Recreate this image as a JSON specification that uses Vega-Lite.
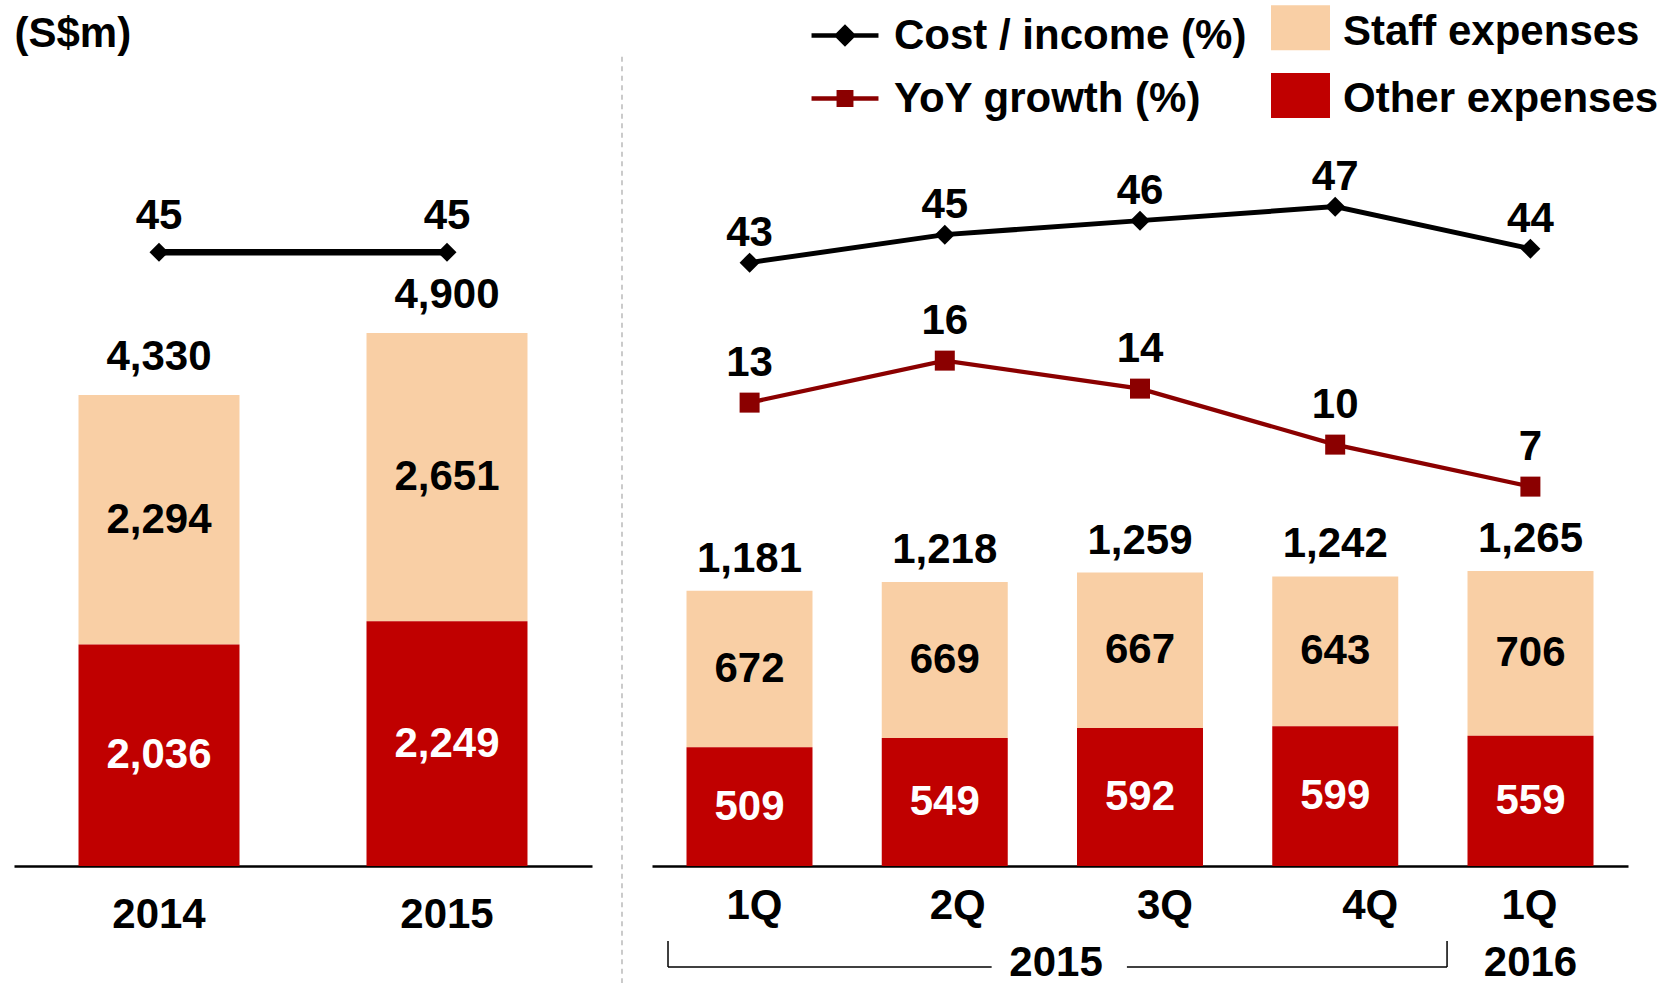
{
  "$schema": "https://vega.github.io/schema/vega-lite/v6.json",
  "background": "white",
  "padding": {"left": 14, "top": 0, "right": 0, "bottom": 0},
  "spacing": 0,
  "datasets": {
    "annualSeg": [
      {"period": "2014", "type": "Staff expenses", "value": 2294},
      {"period": "2014", "type": "Other expenses", "value": 2036},
      {"period": "2015", "type": "Staff expenses", "value": 2651},
      {"period": "2015", "type": "Other expenses", "value": 2249}
    ],
    "annualTot": [
      {"period": "2014", "total": 4330, "cost_income": 45},
      {"period": "2015", "total": 4900, "cost_income": 45}
    ],
    "qSeg": [
      {"period": "1Q 2015", "type": "Staff expenses", "value": 672},
      {"period": "1Q 2015", "type": "Other expenses", "value": 509},
      {"period": "2Q 2015", "type": "Staff expenses", "value": 669},
      {"period": "2Q 2015", "type": "Other expenses", "value": 549},
      {"period": "3Q 2015", "type": "Staff expenses", "value": 667},
      {"period": "3Q 2015", "type": "Other expenses", "value": 592},
      {"period": "4Q 2015", "type": "Staff expenses", "value": 643},
      {"period": "4Q 2015", "type": "Other expenses", "value": 599},
      {"period": "1Q 2016", "type": "Staff expenses", "value": 706},
      {"period": "1Q 2016", "type": "Other expenses", "value": 559}
    ],
    "qTot": [
      {"period": "1Q 2015", "total": 1181, "cost_income": 43, "yoy": 13},
      {"period": "2Q 2015", "total": 1218, "cost_income": 45, "yoy": 16},
      {"period": "3Q 2015", "total": 1259, "cost_income": 46, "yoy": 14},
      {"period": "4Q 2015", "total": 1242, "cost_income": 47, "yoy": 10},
      {"period": "1Q 2016", "total": 1265, "cost_income": 44, "yoy": 7}
    ]
  },
  "resolve": {
    "scale": {"color": "independent", "stroke": "independent"},
    "legend": {"color": "independent", "stroke": "independent"}
  },
  "hconcat": [
    {
      "width": 578,
      "height": 866,
      "layer": [
        {
          "layer": [
            {
              "data": {"name": "annualSeg"},
              "mark": {"type": "bar"},
              "encoding": {
                "x": {
                  "field": "period", "type": "nominal",
                  "scale": {"domain": ["2014", "2015"], "paddingInner": 0.441, "paddingOuter": 0.224},
                  "axis": {"title": null, "labelPadding": 48.5}
                },
                "y": {
                  "field": "value", "type": "quantitative", "stack": "zero",
                  "scale": {"domain": [0, 7960], "nice": false, "zero": false},
                  "axis": {
                    "title": "(S$m)", "labels": false, "domain": false, "ticks": false, "grid": false,
                    "titleAngle": 0, "titleX": 0, "titleY": 33, "titleAlign": "left", "titleBaseline": "middle"
                  }
                },
                "color": {
                  "field": "type", "type": "nominal",
                  "scale": {"domain": ["Staff expenses", "Other expenses"], "range": ["#F9CFA5", "#C00000"]},
                  "legend": null
                },
                "order": {"field": "type", "type": "nominal", "sort": "ascending"}
              }
            },
            {
              "data": {"name": "annualSeg"},
              "transform": [
                {"stack": "value", "groupby": ["period"], "sort": [{"field": "type", "order": "ascending"}], "as": ["v0", "v1"]},
                {"fold": ["v0", "v1"], "as": ["edge", "pos"]},
                {"aggregate": [{"op": "mean", "field": "pos", "as": "mid"}], "groupby": ["period", "type", "value"]}
              ],
              "mark": {"type": "text"},
              "encoding": {
                "x": {"field": "period", "type": "nominal"},
                "y": {"field": "mid", "type": "quantitative", "scale": {"domain": [0, 7960], "nice": false, "zero": false}},
                "text": {"field": "value", "type": "quantitative", "format": ",d"},
                "color": {"condition": {"test": "datum.type === 'Other expenses'", "value": "#FFFFFF"}, "value": "#000000"}
              }
            },
            {
              "data": {"name": "annualTot"},
              "mark": {"type": "text", "dy": -38, "color": "#000000"},
              "encoding": {
                "x": {"field": "period", "type": "nominal"},
                "y": {"field": "total", "type": "quantitative", "scale": {"domain": [0, 7960], "nice": false, "zero": false}},
                "text": {"field": "total", "type": "quantitative", "format": ",d"}
              }
            }
          ]
        },
        {
          "data": {"name": "annualTot"},
          "layer": [
            {
              "mark": {"type": "line", "color": "#000000", "strokeWidth": 6.5},
              "encoding": {
                "x": {"field": "period", "type": "nominal"},
                "y": {"field": "cost_income", "type": "quantitative", "scale": {"domain": [0, 63.5], "nice": false, "zero": false}, "axis": null}
              }
            },
            {
              "mark": {"type": "point", "shape": "diamond", "size": 360, "filled": true, "color": "#000000", "opacity": 1},
              "encoding": {
                "x": {"field": "period", "type": "nominal"},
                "y": {"field": "cost_income", "type": "quantitative"}
              }
            },
            {
              "mark": {"type": "text", "dy": -36, "color": "#000000"},
              "encoding": {
                "x": {"field": "period", "type": "nominal"},
                "y": {"field": "cost_income", "type": "quantitative"},
                "text": {"field": "cost_income", "type": "quantitative"}
              }
            }
          ]
        }
      ],
      "resolve": {"scale": {"y": "independent"}}
    },
    {
      "width": 60,
      "height": 866,
      "data": {"values": [{}]},
      "mark": {"type": "rule", "color": "#AFAFAF", "strokeWidth": 1.3, "strokeDash": [5, 4.5]},
      "encoding": {
        "x": {"datum": 0.5, "type": "quantitative", "scale": {"domain": [0, 1], "nice": false}, "axis": null},
        "y": {"datum": 0.9345, "type": "quantitative", "scale": {"domain": [0, 1], "nice": false}, "axis": null},
        "y2": {"datum": -0.135}
      }
    },
    {
      "width": 976,
      "height": 866,
      "layer": [
        {
          "layer": [
            {
              "data": {"name": "qSeg"},
              "mark": {"type": "bar"},
              "encoding": {
                "x": {
                  "field": "period", "type": "nominal",
                  "scale": {"domain": ["1Q 2015", "2Q 2015", "3Q 2015", "4Q 2015", "1Q 2016"], "paddingInner": 0.3547, "paddingOuter": 0.1767},
                  "axis": {
                    "title": null, "labelPadding": 39,
                    "labelExpr": "split(datum.label, ' ')[0]",
                    "labelOffset": {
                      "condition": [
                        {"test": "datum.value === '1Q 2015'", "value": 5},
                        {"test": "datum.value === '2Q 2015'", "value": 13},
                        {"test": "datum.value === '3Q 2015'", "value": 25},
                        {"test": "datum.value === '4Q 2015'", "value": 35}
                      ],
                      "value": -1
                    }
                  }
                },
                "y": {
                  "field": "value", "type": "quantitative", "stack": "zero",
                  "scale": {"domain": [0, 3715], "nice": false, "zero": false},
                  "axis": null
                },
                "color": {
                  "field": "type", "type": "nominal",
                  "scale": {"domain": ["Staff expenses", "Other expenses"], "range": ["#F9CFA5", "#C00000"]},
                  "legend": {
                    "orient": "none", "legendX": 626, "legendY": 5.3, "title": null, "direction": "vertical",
                    "symbolType": "M-1.311,-1H1.311V1H-1.311Z", "symbolSize": 2025, "symbolStrokeWidth": 0, "symbolOpacity": 1,
                    "labelOffset": 20, "rowPadding": 19.6, "padding": 0, "labelLimit": 0,
                    "encode": {"labels": {"update": {"dy": {"value": 4}}}}
                  }
                },
                "order": {"field": "type", "type": "nominal", "sort": "ascending"}
              }
            },
            {
              "data": {"name": "qSeg"},
              "transform": [
                {"stack": "value", "groupby": ["period"], "sort": [{"field": "type", "order": "ascending"}], "as": ["v0", "v1"]},
                {"fold": ["v0", "v1"], "as": ["edge", "pos"]},
                {"aggregate": [{"op": "mean", "field": "pos", "as": "mid"}], "groupby": ["period", "type", "value"]}
              ],
              "mark": {"type": "text"},
              "encoding": {
                "x": {"field": "period", "type": "nominal"},
                "y": {"field": "mid", "type": "quantitative", "scale": {"domain": [0, 3715], "nice": false, "zero": false}},
                "text": {"field": "value", "type": "quantitative", "format": ",d"},
                "color": {"condition": {"test": "datum.type === 'Other expenses'", "value": "#FFFFFF"}, "value": "#000000"}
              }
            },
            {
              "data": {"name": "qTot"},
              "mark": {"type": "text", "dy": -32, "color": "#000000"},
              "encoding": {
                "x": {"field": "period", "type": "nominal"},
                "y": {"field": "total", "type": "quantitative", "scale": {"domain": [0, 3715], "nice": false, "zero": false}},
                "text": {"field": "total", "type": "quantitative", "format": ",d"}
              }
            },
            {
              "data": {"values": [{}]},
              "mark": {"type": "text", "color": "#000000"},
              "encoding": {
                "x": {"datum": "1Q 2016", "type": "nominal"},
                "y": {"datum": -416, "type": "quantitative"},
                "text": {"value": "2016"}
              }
            }
          ]
        },
        {
          "data": {"name": "qTot"},
          "layer": [
            {
              "mark": {"type": "line", "strokeWidth": 5},
              "encoding": {
                "x": {"field": "period", "type": "nominal", "scale": {"domain": ["1Q 2015", "2Q 2015", "3Q 2015", "4Q 2015", "1Q 2016"], "paddingInner": 0.3547, "paddingOuter": 0.1767}, "axis": null},
                "y": {"field": "cost_income", "type": "quantitative", "scale": {"domain": [-0.1, 61.76], "nice": false, "zero": false}, "axis": null},
                "stroke": {
                  "datum": "Cost / income (%)", "type": "nominal",
                  "scale": {"domain": ["Cost / income (%)", "YoY growth (%)"], "range": ["#000000", "#8B0000"]},
                  "legend": {
                    "orient": "none", "legendX": 159.5, "legendY": 2, "title": null, "direction": "vertical",
                    "symbolType": "M-1.08,0H1.08", "symbolSize": 3844, "symbolStrokeWidth": 4.5, "symbolOpacity": 1,
                    "labelOffset": 15.5, "rowPadding": 8, "padding": 0, "labelLimit": 0,
                    "encode": {
                      "symbols": {
                        "update": {
                          "shape": {"signal": "datum.value === 'Cost / income (%)' ? 'M-1.08,0H1.08M-0.26,0L0,-0.26L0.26,0L0,0.26Z' : 'M-1.08,0H1.08M-0.2,-0.2H0.2V0.2H-0.2Z'"},
                          "fill": {"signal": "datum.value === 'Cost / income (%)' ? '#000000' : '#8B0000'"},
                          "fillOpacity": {"value": 1}
                        }
                      }
                    }
                  }
                }
              }
            },
            {
              "mark": {"type": "point", "shape": "diamond", "size": 400, "filled": true, "color": "#000000", "opacity": 1},
              "encoding": {
                "x": {"field": "period", "type": "nominal"},
                "y": {"field": "cost_income", "type": "quantitative"}
              }
            },
            {
              "mark": {"type": "text", "dy": -30, "color": "#000000"},
              "encoding": {
                "x": {"field": "period", "type": "nominal"},
                "y": {"field": "cost_income", "type": "quantitative"},
                "text": {"field": "cost_income", "type": "quantitative"}
              }
            }
          ]
        },
        {
          "data": {"name": "qTot"},
          "layer": [
            {
              "mark": {"type": "line", "strokeWidth": 4.2},
              "encoding": {
                "x": {"field": "period", "type": "nominal", "scale": {"domain": ["1Q 2015", "2Q 2015", "3Q 2015", "4Q 2015", "1Q 2016"], "paddingInner": 0.3547, "paddingOuter": 0.1767}, "axis": null},
                "y": {"field": "yoy", "type": "quantitative", "scale": {"domain": [-20.1, 41.76], "nice": false, "zero": false}, "axis": null},
                "stroke": {"datum": "YoY growth (%)", "type": "nominal"}
              }
            },
            {
              "mark": {"type": "point", "shape": "square", "size": 400, "filled": true, "color": "#8B0000", "opacity": 1},
              "encoding": {
                "x": {"field": "period", "type": "nominal"},
                "y": {"field": "yoy", "type": "quantitative"}
              }
            },
            {
              "mark": {"type": "text", "dy": -40, "color": "#000000"},
              "encoding": {
                "x": {"field": "period", "type": "nominal"},
                "y": {"field": "yoy", "type": "quantitative"},
                "text": {"field": "yoy", "type": "quantitative"}
              }
            }
          ]
        },
        {
          "data": {"values": [{}]},
          "layer": [
            {
              "mark": {"type": "rule", "color": "#000000", "strokeWidth": 1.5},
              "encoding": {
                "x": {"datum": -0.418, "type": "quantitative", "scale": {"domain": [-0.5, 4.5], "nice": false, "zero": false}, "axis": null},
                "y": {"datum": -321.8, "type": "quantitative", "scale": {"domain": [0, 3715], "nice": false, "zero": false}, "axis": null},
                "y2": {"datum": -433.3}
              }
            },
            {
              "mark": {"type": "rule", "color": "#000000", "strokeWidth": 1.5},
              "encoding": {
                "x": {"datum": 3.573, "type": "quantitative"},
                "y": {"datum": -321.8, "type": "quantitative"},
                "y2": {"datum": -433.3}
              }
            },
            {
              "mark": {"type": "rule", "color": "#000000", "strokeWidth": 1.5},
              "encoding": {
                "x": {"datum": -0.418, "type": "quantitative"},
                "x2": {"datum": 1.24},
                "y": {"datum": -433.3, "type": "quantitative"}
              }
            },
            {
              "mark": {"type": "rule", "color": "#000000", "strokeWidth": 1.5},
              "encoding": {
                "x": {"datum": 1.933, "type": "quantitative"},
                "x2": {"datum": 3.573},
                "y": {"datum": -433.3, "type": "quantitative"}
              }
            },
            {
              "mark": {"type": "text", "color": "#000000"},
              "encoding": {
                "x": {"datum": 1.57, "type": "quantitative"},
                "y": {"datum": -416, "type": "quantitative"},
                "text": {"value": "2015"}
              }
            }
          ]
        }
      ],
      "resolve": {"scale": {"x": "independent", "y": "independent"}}
    }
  ],
  "config": {
    "view": {"stroke": null},
    "font": "Liberation Sans",
    "text": {"font": "Liberation Sans", "fontSize": 42, "fontWeight": "bold", "baseline": "middle", "align": "center"},
    "axis": {
      "labelFont": "Liberation Sans", "labelFontSize": 42, "labelFontWeight": "bold", "labelColor": "#000000",
      "titleFont": "Liberation Sans", "titleFontSize": 42, "titleFontWeight": "bold", "titleColor": "#000000",
      "domainColor": "#000000", "domainWidth": 2.5, "ticks": false, "tickSize": 0, "grid": false,
      "labelAngle": 0, "labelBaseline": "middle"
    },
    "legend": {
      "labelFont": "Liberation Sans", "labelFontSize": 42, "labelFontWeight": "bold", "labelColor": "#000000",
      "labelLimit": 0, "padding": 0
    }
  }
}
